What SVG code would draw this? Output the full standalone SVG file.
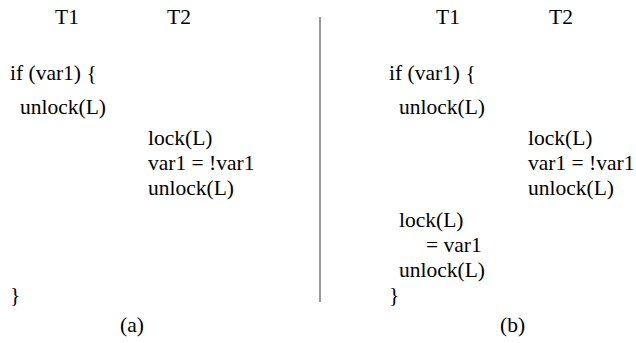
<svg xmlns="http://www.w3.org/2000/svg" width="636" height="343" viewBox="0 0 636 343">
  <style>
    text { font-family: 'Liberation Serif', 'Times New Roman', serif; font-size: 21.5px; fill: #000; }
    .divider { stroke: #555; stroke-width: 1.2; }
  </style>
  <rect width="636" height="343" fill="#fff"/>

  <!-- panel (a): T1 is interrupted between unlock and the closing brace -->
  <g id="panel-a">
    <text x="55" y="24">T1</text>
    <text x="167" y="24">T2</text>
    <g id="a-t1">
      <text x="10" y="80">if (var1) {</text>
      <text x="20" y="114">unlock(L)</text>
      <text x="10" y="302">}</text>
    </g>
    <g id="a-t2">
      <text x="148" y="145">lock(L)</text>
      <text x="148" y="170">var1 = !var1</text>
      <text x="148" y="195">unlock(L)</text>
    </g>
    <text x="120" y="332">(a)</text>
  </g>

  <!-- separator between the two panels -->
  <g id="connectors">
    <line class="divider" x1="320" y1="17" x2="320" y2="302"/>
  </g>

  <!-- panel (b): T1 re-acquires the lock after T2 runs -->
  <g id="panel-b">
    <text x="436" y="24">T1</text>
    <text x="549" y="24">T2</text>
    <g id="b-t1">
      <text x="389" y="80">if (var1) {</text>
      <text x="399" y="114">unlock(L)</text>
      <text x="399" y="227">lock(L)</text>
      <text x="426" y="252">= var1</text>
      <text x="399" y="277">unlock(L)</text>
      <text x="389" y="302">}</text>
    </g>
    <g id="b-t2">
      <text x="528" y="145">lock(L)</text>
      <text x="528" y="170">var1 = !var1</text>
      <text x="528" y="195">unlock(L)</text>
    </g>
    <text x="500" y="332">(b)</text>
  </g>
</svg>
